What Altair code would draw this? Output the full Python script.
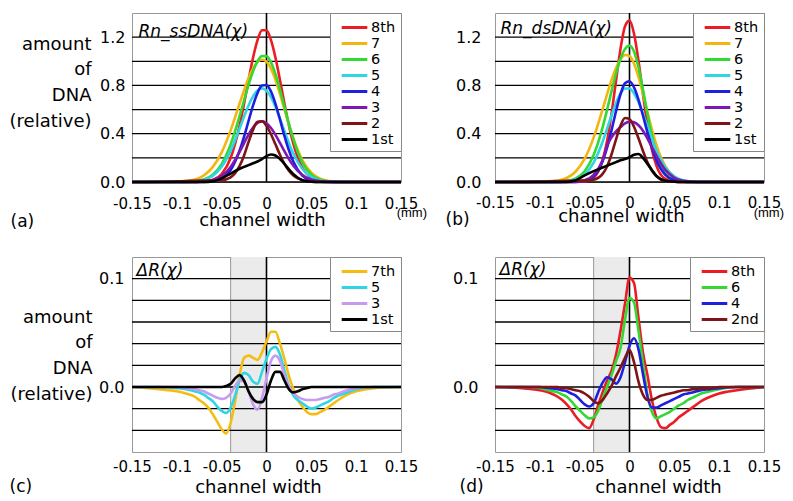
import altair as alt
import pandas as pd

FONT = "DejaVu Sans"

# ---------------- x grids ----------------
XA = [-0.15, -0.12, -0.10, -0.09, -0.08, -0.07, -0.06, -0.05, -0.04, -0.03, -0.025, -0.02, -0.015, -0.01, -0.005,
      0.0, 0.005, 0.01, 0.015, 0.02, 0.025, 0.03, 0.04, 0.05, 0.06, 0.07, 0.08, 0.09, 0.10, 0.12, 0.15]
XC = [-0.15, -0.12, -0.10, -0.09, -0.08, -0.075, -0.07, -0.065, -0.06, -0.055, -0.05, -0.045, -0.04, -0.035,
      -0.03, -0.025, -0.02, -0.015, -0.01, -0.005, 0.0, 0.005, 0.01, 0.015, 0.02, 0.025, 0.03, 0.035, 0.04,
      0.045, 0.05, 0.055, 0.06, 0.065, 0.07, 0.075, 0.08, 0.09, 0.10, 0.12, 0.15]

# ---------------- panel (a) Rn_ssDNA ----------------
A_8 = [0, 0, 0, 0, 0.001, 0.004, 0.017, 0.066, 0.199, 0.468, 0.650, 0.846, 1.030, 1.175, 1.257, 1.257, 1.175,
       1.030, 0.846, 0.650, 0.468, 0.315, 0.118, 0.034, 0.008, 0.002, 0, 0, 0, 0, 0]
A_7 = [0, 0, 0.002, 0.007, 0.020, 0.054, 0.123, 0.245, 0.428, 0.650, 0.761, 0.861, 0.941, 0.994, 1.015, 0.997,
       0.939, 0.846, 0.730, 0.603, 0.477, 0.361, 0.182, 0.077, 0.027, 0.008, 0.002, 0, 0, 0, 0]
A_6 = [0, 0, 0, 0.001, 0.006, 0.020, 0.060, 0.148, 0.310, 0.545, 0.677, 0.805, 0.917, 1.000, 1.044, 1.043, 0.991,
       0.894, 0.766, 0.622, 0.481, 0.353, 0.162, 0.061, 0.019, 0.005, 0.001, 0, 0, 0, 0]
A_5 = [0, 0, 0, 0.001, 0.005, 0.018, 0.051, 0.126, 0.258, 0.443, 0.542, 0.634, 0.709, 0.759, 0.776, 0.757, 0.704,
       0.623, 0.525, 0.421, 0.322, 0.234, 0.107, 0.040, 0.012, 0.003, 0.001, 0, 0, 0, 0]
A_4 = [0, 0, 0, 0, 0, 0.001, 0.006, 0.029, 0.100, 0.261, 0.376, 0.506, 0.634, 0.738, 0.799, 0.804, 0.750, 0.648,
       0.518, 0.383, 0.263, 0.167, 0.053, 0.012, 0.002, 0, 0, 0, 0, 0, 0]
A_3 = [0, 0, 0, 0, 0.001, 0.004, 0.016, 0.050, 0.125, 0.249, 0.322, 0.393, 0.452, 0.490, 0.502, 0.486, 0.447,
       0.391, 0.324, 0.255, 0.190, 0.135, 0.058, 0.020, 0.006, 0.001, 0, 0, 0, 0, 0]
A_2 = [0, 0.002, 0.005, 0.008, 0.010, 0.012, 0.013, 0.016, 0.039, 0.133, 0.220, 0.331, 0.434, 0.499, 0.503, 0.465,
       0.396, 0.312, 0.226, 0.151, 0.093, 0.053, 0.014, 0.003, 0, 0, 0, 0, 0, 0, 0]
A_1 = [0, 0, 0, 0, 0, 0, 0.005, 0.030, 0.070, 0.110, 0.125, 0.140, 0.155, 0.170, 0.190, 0.215, 0.228, 0.220,
       0.190, 0.150, 0.105, 0.065, 0.015, 0.002, 0, 0, 0, 0, 0, 0, 0]

# ---------------- panel (b) Rn_dsDNA ----------------
B_8 = [0, 0, 0, 0, 0, 0, 0, 0.004, 0.036, 0.181, 0.340, 0.568, 0.841, 1.105, 1.290, 1.337, 1.230, 1.005, 0.729,
       0.470, 0.268, 0.136, 0.025, 0.003, 0, 0, 0, 0, 0, 0, 0]
B_7 = [0, 0, 0.001, 0.003, 0.011, 0.033, 0.087, 0.193, 0.368, 0.602, 0.727, 0.845, 0.944, 1.016, 1.052, 1.044,
       0.981, 0.871, 0.731, 0.579, 0.434, 0.307, 0.130, 0.044, 0.012, 0.003, 0, 0, 0, 0, 0]
B_6 = [0, 0, 0, 0, 0.002, 0.008, 0.029, 0.089, 0.223, 0.453, 0.599, 0.753, 0.899, 1.021, 1.102, 1.130, 1.082,
       0.950, 0.766, 0.566, 0.383, 0.238, 0.071, 0.015, 0.002, 0, 0, 0, 0, 0, 0]
B_5 = [0, 0, 0, 0, 0.001, 0.005, 0.019, 0.061, 0.160, 0.333, 0.441, 0.553, 0.655, 0.733, 0.775, 0.775, 0.735,
       0.662, 0.566, 0.460, 0.355, 0.260, 0.120, 0.045, 0.014, 0.003, 0.001, 0, 0, 0, 0]
B_4 = [0, 0, 0, 0, 0, 0, 0.001, 0.008, 0.046, 0.172, 0.285, 0.430, 0.587, 0.728, 0.818, 0.835, 0.785, 0.683,
       0.551, 0.411, 0.283, 0.181, 0.059, 0.014, 0.002, 0, 0, 0, 0, 0, 0]
B_3 = [0, 0, 0, 0, 0.001, 0.002, 0.005, 0.015, 0.060, 0.180, 0.300, 0.370, 0.420, 0.455, 0.485, 0.500, 0.495,
       0.470, 0.425, 0.360, 0.290, 0.220, 0.100, 0.035, 0.010, 0.002, 0, 0, 0, 0, 0]
B_2 = [0, 0.001, 0.003, 0.006, 0.008, 0.010, 0.010, 0.011, 0.019, 0.067, 0.129, 0.230, 0.354, 0.467, 0.530, 0.521,
       0.458, 0.362, 0.257, 0.163, 0.093, 0.048, 0.009, 0.002, 0, 0, 0, 0, 0, 0, 0]
B_1 = [0, 0, 0, 0, 0, 0, 0.015, 0.055, 0.090, 0.120, 0.135, 0.150, 0.165, 0.180, 0.190, 0.205, 0.225, 0.232,
       0.200, 0.150, 0.100, 0.050, 0.010, 0.002, 0, 0, 0, 0, 0, 0, 0]

# ---------------- panel (c) dR, odd ----------------
C_7 = [0, -0.002, -0.004, -0.006, -0.009, -0.012, -0.015, -0.019, -0.025, -0.032, -0.039, -0.043, -0.033, -0.013,
       0.011, 0.027, 0.029, 0.027, 0.025, 0.032, 0.042, 0.051, 0.051, 0.040, 0.026, 0.010, -0.002, -0.012, -0.018,
       -0.023, -0.025, -0.025, -0.023, -0.021, -0.018, -0.015, -0.012, -0.007, -0.004, -0.001, 0]
C_5 = [0, 0, -0.001, -0.002, -0.004, -0.005, -0.007, -0.010, -0.013, -0.018, -0.022, -0.024, -0.019, -0.008,
       0.006, 0.013, 0.011, 0.005, 0.003, 0.014, 0.026, 0.035, 0.037, 0.030, 0.015, 0.001, -0.008, -0.012, -0.015,
       -0.018, -0.020, -0.019, -0.017, -0.015, -0.013, -0.010, -0.008, -0.005, -0.002, 0, 0]
C_3 = [0, 0, 0, -0.001, -0.002, -0.003, -0.004, -0.006, -0.008, -0.010, -0.011, -0.010, -0.006, 0.001, 0.006,
       0.005, -0.004, -0.016, -0.021, -0.010, 0.008, 0.024, 0.029, 0.024, 0.011, 0.001, -0.006, -0.009, -0.011,
       -0.012, -0.012, -0.012, -0.011, -0.010, -0.009, -0.007, -0.006, -0.003, -0.001, 0, 0]
C_1 = [0, 0, 0, 0, 0, 0, 0, 0, 0, 0, 0, 0.001, 0.003, 0.008, 0.011, 0.006, -0.004, -0.011, -0.014, -0.014, -0.007,
       0.006, 0.014, 0.014, 0.006, -0.002, -0.005, -0.004, -0.002, -0.001, 0, 0, 0, 0, 0, 0, 0, 0, 0, 0, 0]

# ---------------- panel (d) dR, even ----------------
D_8 = [0, -0.001, -0.003, -0.005, -0.009, -0.012, -0.016, -0.021, -0.027, -0.032, -0.036, -0.038, -0.030, -0.017,
       -0.005, 0.006, 0.015, 0.030, 0.052, 0.077, 0.101, 0.096, 0.064, 0.032, 0.011, -0.012, -0.028, -0.037,
       -0.038, -0.035, -0.032, -0.028, -0.025, -0.022, -0.019, -0.016, -0.013, -0.009, -0.006, -0.003, 0]
D_6 = [0, 0, -0.001, -0.003, -0.005, -0.007, -0.009, -0.013, -0.018, -0.022, -0.026, -0.029, -0.028, -0.022,
       -0.011, 0.000, 0.011, 0.024, 0.036, 0.062, 0.082, 0.078, 0.052, 0.022, -0.007, -0.023, -0.029, -0.027,
       -0.025, -0.023, -0.020, -0.017, -0.015, -0.012, -0.010, -0.008, -0.006, -0.004, -0.002, 0, 0]
D_4 = [0, 0, 0, -0.001, -0.002, -0.003, -0.004, -0.006, -0.008, -0.012, -0.016, -0.018, -0.015, -0.005, 0.004,
       0.009, 0.007, 0.003, 0.009, 0.023, 0.038, 0.045, 0.035, 0.012, -0.009, -0.019, -0.019, -0.017, -0.015,
       -0.013, -0.011, -0.009, -0.007, -0.006, -0.005, -0.004, -0.003, -0.002, -0.001, 0, 0]
D_2 = [0, 0, 0, 0, 0, -0.001, -0.001, -0.002, -0.003, -0.004, -0.006, -0.009, -0.013, -0.015, -0.012, -0.006,
       0.001, 0.010, 0.018, 0.027, 0.034, 0.023, 0.005, -0.007, -0.012, -0.012, -0.010, -0.008, -0.007, -0.006,
       -0.005, -0.004, -0.003, -0.003, -0.002, -0.002, -0.001, -0.001, 0, 0, 0]

# ---------------- labels, colours, axes ----------------
LAB_AB = ["8th", "7", "6", "5", "4", "3", "2", "1st"]
COL_AB = ["#ec1c24", "#f5b50f", "#33d933", "#2dd5e5", "#1f1fe0", "#7d18b0", "#7f1416", "#000000"]
LAB_C = ["7th", "5", "3", "1st"]
COL_C = ["#f5bd12", "#2dd5e5", "#c69cf0", "#000000"]
LAB_D = ["8th", "6", "4", "2nd"]
COL_D = ["#ec1c24", "#33d933", "#1f1fe0", "#7f1416"]

XDOM = [-0.15, 0.15]
XTICKS = [-0.15, -0.1, -0.05, 0, 0.05, 0.1, 0.15]
YDOM_AB = [0, 1.4]
YGRID_AB = [0, 0.2, 0.4, 0.6, 0.8, 1.0, 1.2]
YLAB_AB = [0, 0.4, 0.8, 1.2]
YDOM_CD = [-0.06, 0.12]
YGRID_CD = [-0.04, -0.02, 0, 0.02, 0.04, 0.06, 0.08, 0.1]
YLAB_CD = [0, 0.1]
SHADE = [-0.04, 0.0]
YTITLE = ["amount", "of", "DNA", "(relative)"]
NBSP3 = "\u00a0\u00a0\u00a0"


def panel(xs, labels, colors, series, ydom, ygrid, ylab, w, h, name, tag, tag_x, tag_y,
          xt_x, xt_y, ylab_pad, xlab_pad, name_dx, name_y, ytitle_xy=None, mm=None, shade=False):
    rows = []
    for lab, ys in zip(labels, series):
        for x, v in zip(xs, ys):
            rows.append({"x": x, "v": v, "series": lab})
    df = pd.DataFrame(rows)
    xsc = alt.Scale(domain=XDOM, nice=False, zero=False)
    ysc = alt.Scale(domain=ydom, nice=False, zero=False)
    layers = []
    if shade:
        sdf = pd.DataFrame({"x0": [SHADE[0]], "x1": [SHADE[1]], "y0": [ydom[0]], "y1": [ydom[1]]})
        layers.append(alt.Chart(sdf).mark_rect(color="#ebebeb").encode(
            x=alt.X("x0:Q", scale=xsc, axis=None), x2="x1:Q",
            y=alt.Y("y0:Q", scale=ysc, axis=None), y2="y1:Q"))
        layers.append(alt.Chart(sdf).mark_rule(color="#999999", strokeWidth=1).encode(
            x=alt.X("x0:Q", scale=xsc, axis=None)))
    gdf = pd.DataFrame({"g": ygrid})
    layers.append(alt.Chart(gdf).mark_rule(color="black", strokeWidth=1.3).encode(
        y=alt.Y("g:Q", scale=ysc, axis=None)))
    zdf = pd.DataFrame({"z": [0.0]})
    layers.append(alt.Chart(zdf).mark_rule(color="black", strokeWidth=1.6).encode(
        x=alt.X("z:Q", scale=xsc, axis=None)))

    if ytitle_xy is not None:
        yaxis = alt.Axis(values=ylab, format=".1f", labelFontSize=16, labelPadding=ylab_pad, ticks=False,
                         tickSize=0, domain=False, grid=False, labelOverlap=False,
                         title=YTITLE, titleAngle=0, titleAlign="right", titleBaseline="top",
                         titleX=ytitle_xy[0], titleY=ytitle_xy[1], titleFontSize=18,
                         titleLineHeight=25.7, titleFontWeight="normal")
    else:
        yaxis = alt.Axis(values=ylab, format=".1f", labelFontSize=16, labelPadding=ylab_pad, ticks=False,
                         tickSize=0, domain=False, grid=False, labelOverlap=False, title=None)
    xaxis = alt.Axis(values=XTICKS, labelExpr="toString(datum.value)", labelFlush=False, labelOverlap=False,
                     labelFontSize=15, labelPadding=xlab_pad, ticks=False, tickSize=0, domain=False,
                     grid=False, title="channel width", titleFontSize=18, titleX=xt_x, titleY=xt_y,
                     titleAlign="center", titleBaseline="middle", titleFontWeight="normal")
    lines = alt.Chart(df).mark_line(strokeWidth=2.6, interpolate="monotone").encode(
        x=alt.X("x:Q", scale=xsc, axis=xaxis),
        y=alt.Y("v:Q", scale=ysc, axis=yaxis),
        color=alt.Color("series:N", scale=alt.Scale(domain=labels, range=colors),
                        legend=alt.Legend(orient="top-right", offset=0, title=None, fillColor="white",
                                          strokeColor="#888888", padding=5, symbolType="M-1.6,0H1.6",
                                          symbolStrokeWidth=3, symbolSize=256, symbolOffset=10,
                                          labelFontSize=14.5, labelOffset=7, rowPadding=0, labelFont=FONT,
                                          labelExpr="datum.label + '" + NBSP3 + "'")),
    )
    layers.append(lines)

    tag_axis = alt.Axis(orient="top", title=tag, labels=False, ticks=False, domain=False, grid=False,
                        titleX=tag_x, titleY=tag_y, titleAlign="left", titleBaseline="middle",
                        titleAngle=0, titleFontSize=17, titleFontWeight="normal")
    name_axis = alt.Axis(orient="right", title=name, labels=False, ticks=False, domain=False, grid=False,
                         minExtent=0, titleX=name_dx - w, titleY=name_y, titleAlign="left",
                         titleBaseline="middle", titleAngle=0, titleFontSize=17, titleFontWeight="normal",
                         titleFontStyle="italic")
    guide = alt.Chart(df).mark_point(opacity=0, size=1).encode(
        x=alt.X("x:Q", scale=xsc, axis=tag_axis),
        y=alt.Y("v:Q", scale=ysc, axis=name_axis),
    )
    layers.append(guide)

    out = alt.layer(*layers).resolve_axis(x="independent", y="independent").properties(width=w, height=h)
    if mm is not None:
        out = out.properties(title=alt.TitleParams("(mm)", orient="bottom", anchor="end", frame="group",
                                                   offset=mm[1], dx=mm[0], fontSize=13, fontWeight="normal",
                                                   font="Liberation Sans", color="black"))
    return out


pa = panel(XA, LAB_AB, COL_AB, [A_8, A_7, A_6, A_5, A_4, A_3, A_2, A_1], YDOM_AB, YGRID_AB, YLAB_AB,
           269, 169, "Rn_ssDNA(\u03c7)", "(a)", -122, 208, 130, 38, 7, 14, 6, 18,
           ytitle_xy=(-41, 22), mm=(26, -22))
pb = panel(XA, LAB_AB, COL_AB, [B_8, B_7, B_6, B_5, B_4, B_3, B_2, B_1], YDOM_AB, YGRID_AB, YLAB_AB,
           269, 169, "Rn_dsDNA(\u03c7)", "(b)", -50, 206, 126, 34, 14, 13, 5, 15,
           mm=(20, -20))
pc = panel(XC, LAB_C, COL_C, [C_7, C_5, C_3, C_1], YDOM_CD, YGRID_CD, YLAB_CD,
           269, 195, "\u0394R(\u03c7)", "(c)", -123, 229, 126, 35, 8, 7, 4, 13,
           ytitle_xy=(-40, 51), shade=True)
pd_ = panel(XC, LAB_D, COL_D, [D_8, D_6, D_4, D_2], YDOM_CD, YGRID_CD, YLAB_CD,
            269, 195, "\u0394R(\u03c7)", "(d)", -36, 229, 163, 35, 17, 7, 4, 12,
            shade=True)

chart = alt.concat(pa, pb, pc, pd_, columns=2, spacing={"row": 75, "column": 94}, bounds="flush").resolve_scale(
    color="independent", x="independent", y="independent"
).properties(
    padding={"left": 0, "top": 3, "right": 0, "bottom": 0}
).configure(font=FONT).configure_view(stroke="#999999", strokeWidth=1).configure_axis(
    labelColor="black", titleColor="black", labelFont=FONT, titleFont=FONT
).configure_legend(labelColor="black")

chart.save("out.html", embed_options={"renderer": "svg", "actions": False})
